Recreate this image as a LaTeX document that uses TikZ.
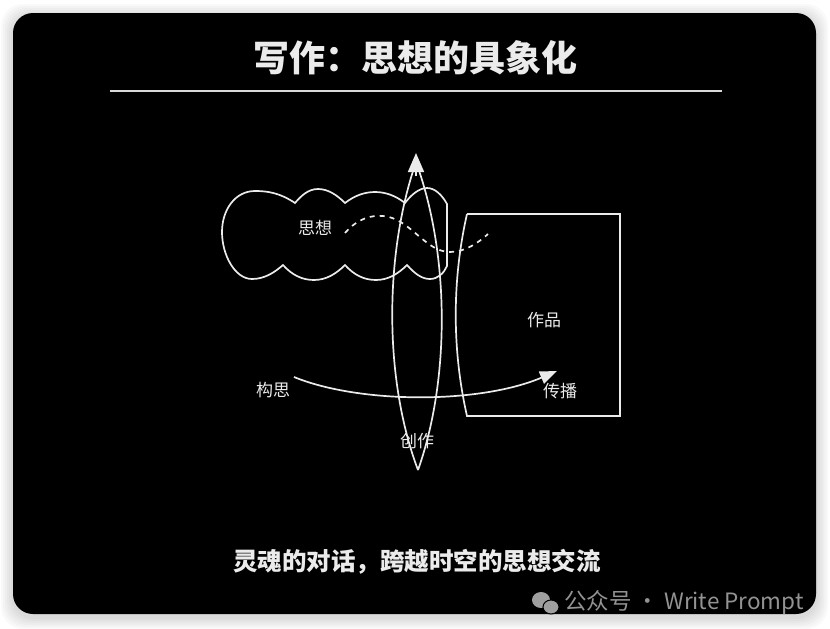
\documentclass[tikz,border=0pt]{standalone}
\usepackage{fontspec}
\setmainfont{Noto Sans CJK SC}
\usetikzlibrary{arrows.meta}

\begin{document}
\begin{tikzpicture}[x=1pt,y=-1pt,
    line/.style={draw=white!92!black, line width=1.7pt},
    lbl/.style={text=white!92!black, font=\fontsize{17}{17}\selectfont, inner sep=0pt},
    tip/.style={-{Triangle[length=19pt,width=16pt]}}]
    \newcommand{\bw}{830}
    \newcommand{\bh}{629}

    \useasboundingbox (0,0) rectangle (\bw,\bh);
    \fill[white] (0,0) rectangle (\bw,\bh);
    \foreach \s in {2,4,...,12}
      \fill[black, opacity=0.025, rounded corners=22pt] (13-\s,16-\s) rectangle (816+\s,617+\s);
    \fill[black, rounded corners=20pt] (13,13) rectangle (816,614);

    \node[lbl, font=\fontsize{36}{36}\selectfont\bfseries] (title) at (415,58) {写作：思想的具象化};
    \draw[draw=white!85!black, line width=1.8pt] (110,91) -- (722,91);

    % cloud
    \draw[line] (295,203) .. controls (280,193) and (268,191) .. (255,191)
        .. controls (235,191) and (222,210) .. (222,232)
        .. controls (222,255) and (235,279) .. (252,279)
        .. controls (265,279) and (275,272) .. (283,265)
        .. controls (292,275) and (302,280) .. (314,280)
        .. controls (326,280) and (336,274) .. (345,265)
        .. controls (354,275) and (364,280) .. (376,280)
        .. controls (388,280) and (398,274) .. (407,265)
        .. controls (415,274) and (422,279) .. (430,279)
        .. controls (438,279) and (444,273) .. (447,266) -- (447,204)
        .. controls (442,195) and (435,188) .. (427,188)
        .. controls (419,188) and (411,195) .. (405,203)
        .. controls (396,196) and (386,192) .. (375,192)
        .. controls (364,192) and (354,196) .. (345,203)
        .. controls (337,195) and (328,189) .. (318,189)
        .. controls (308,189) and (301,196) .. (295,203) -- cycle;
    \node[lbl] (thought) at (315,228) {思想};
    \draw[line, dash pattern=on 5pt off 5pt] (345,233) .. controls (358,218) and (372,215) .. (383,216)
        .. controls (410,218) and (425,252) .. (450,252)
        .. controls (465,252) and (478,243) .. (488,234);

    % work
    \draw[line] (467,214) -- (620,214) -- (620,416) -- (467,416)
        .. controls (452,350) and (452,280) .. (467,214);
    \node[lbl] (work) at (544,320) {作品};
    \node[lbl] (spread) at (560,391) {传播};

    % lens
    \coordinate (lensbot) at (418,470);
    \coordinate (lenstop) at (416,162);
    \coordinate (lenstip) at (416,153);
    \draw[line] (lensbot) .. controls (384,380) and (384,255) .. (lenstop)
        .. controls (450,255) and (450,380) .. (lensbot);
    \draw[line, tip] (416,176) -- (lenstip);
    \node[lbl] (create) at (417,441) {创作};

    % arc
    \node[lbl] (conceive) at (273,390) {构思};
    \coordinate (arcstart) at (294,377);
    \coordinate (arcend) at (557,371);
    \draw[line, -{Triangle[length=17pt,width=13pt]}] (arcstart) .. controls (360,404) and (480,404) .. (arcend);

    \node[lbl, font=\fontsize{24.5}{24.5}\selectfont\bfseries] (motto) at (417,562) {灵魂的对话，跨越时空的思想交流};

    % mark
    \fill[gray!75] (541,600) ellipse (9 and 8);
    \fill[gray!75, draw=black, line width=1pt] (551,607) ellipse (8 and 7);
    \node[text=gray!85, font=\fontsize{22.5}{22.5}\selectfont, anchor=west, inner sep=0pt] (mark) at (564,603) {公众号 · Write Prompt};
\end{tikzpicture}
\end{document}
